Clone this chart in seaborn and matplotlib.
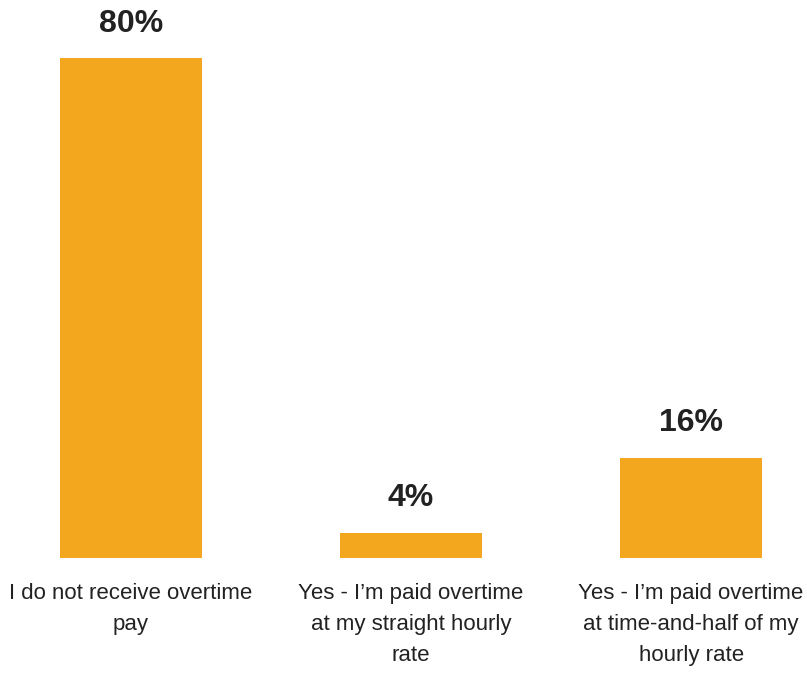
import matplotlib
matplotlib.use("Agg")
import matplotlib.pyplot as plt
import seaborn as sns
import pandas as pd

# Survey responses on overtime pay
categories = [
    "I do not receive overtime\npay",
    "Yes - I\u2019m paid overtime\nat my straight hourly\nrate",
    "Yes - I\u2019m paid overtime\nat time-and-half of my\nhourly rate",
]
shares = [80, 4, 16]
value_labels = ["80%", "4%", "16%"]

bar_color = "#F3A71F"
text_color = "#222222"

sns.set_theme(style="white")
plt.rcParams["font.family"] = ["Liberation Sans", "DejaVu Sans"]

df = pd.DataFrame({"category": categories, "share": shares})

fig = plt.figure(figsize=(8.07, 6.75), dpi=100)
ax = fig.add_axes([0.0, 0.174, 1.0, 0.740])

sns.barplot(data=df, x="category", y="share", hue="category",
            palette=[bar_color] * len(categories), legend=False,
            width=0.51, saturation=1, linewidth=0, ax=ax)

ax.set_ylim(0, 80)
ax.set_xlim(-0.468, 2.414)

for patch, label in zip(ax.patches, value_labels):
    x = patch.get_x() + patch.get_width() / 2
    ax.annotate(label, (x, patch.get_height()), xytext=(0, 14),
                textcoords="offset points", ha="center", va="bottom",
                fontsize=23, fontweight="bold", color=text_color,
                annotation_clip=False)

ax.set_xlabel("")
ax.set_ylabel("")
ax.set_yticks([])
ax.tick_params(axis="x", length=0, pad=18)
for t in ax.get_xticklabels():
    t.set_fontsize(16)
    t.set_color(text_color)
    t.set_linespacing(1.65)
    t.set_va("top")

sns.despine(ax=ax, left=True, bottom=True)

fig.savefig("out.png", dpi=100)
